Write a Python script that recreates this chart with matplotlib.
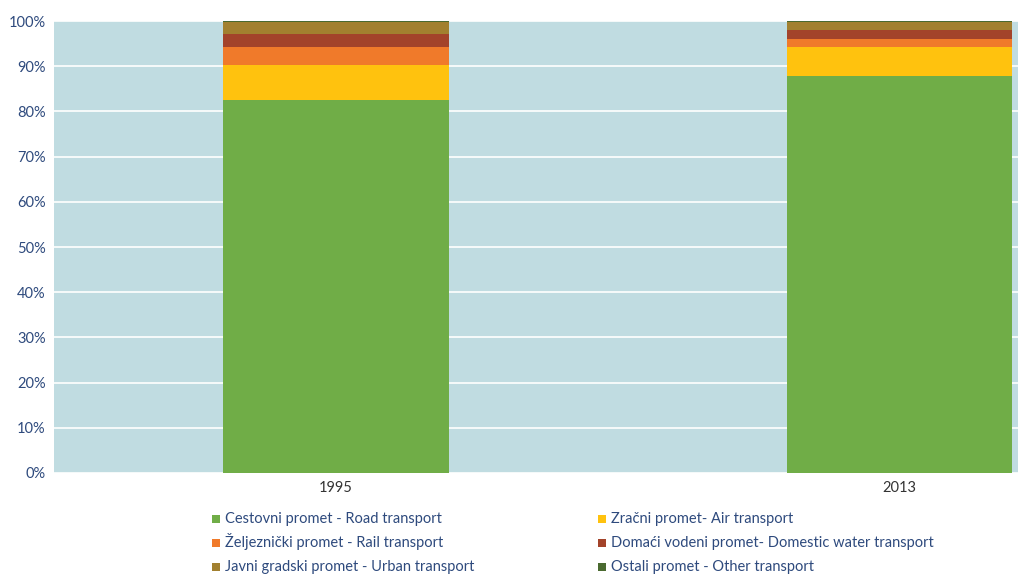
import numpy as np
import matplotlib.pyplot as plt
from matplotlib.patches import Rectangle

years = ['1995', '2013']
road = [82.5, 87.8]
air = [7.7, 6.4]
rail = [4.05, 1.8]
water = [2.8, 2.1]
urban = [2.65, 1.6]
other = [0.3, 0.3]

series = [
    ('Cestovni promet - Road transport', road, '#70AD47'),
    ('Zračni promet- Air transport', air, '#FFC20E'),
    ('Željeznički promet - Rail transport', rail, '#F07A2A'),
    ('Domaći vodeni promet- Domestic water transport', water, '#A3432A'),
    ('Javni gradski promet - Urban transport', urban, '#A2802F'),
    ('Ostali promet - Other transport', other, '#4A6A30'),
]

plt.rcParams['font.family'] = ['Lato', 'DejaVu Sans']
txt = '#2E4A7D'
W, H = 1023, 575

fig = plt.figure(figsize=(10.23, 5.75), dpi=100)
ax = fig.add_axes([54 / W, 102 / H, 964 / W, 452 / H])
ax.set_facecolor('#C0DCE1')

x = np.arange(len(years))
bottom = np.zeros(len(years))
for name, vals, col in series:
    ax.bar(x, vals, width=0.40, bottom=bottom, color=col, label=name, zorder=3)
    bottom += np.array(vals)

ax.set_ylim(0, 100)
ax.set_xlim(-0.501, 1.211)
ax.set_yticks(np.arange(0, 101, 10))
ax.set_yticklabels([f'{v}%' for v in range(0, 101, 10)], color=txt, fontsize=10.5)
ax.set_xticks(x)
ax.set_xticklabels(years, color='#333333', fontsize=10.5)
ax.tick_params(length=0, pad=6)
ax.yaxis.grid(True, color='white', linewidth=1.2, zorder=1)
ax.set_axisbelow(True)
for s in ax.spines.values():
    s.set_visible(False)

# legend laid out by hand, two columns, row by row
col_x = [212, 598]
row_y = [519, 543, 567]
for i, (name, vals, col) in enumerate(series):
    cx = col_x[i % 2]
    cy = row_y[i // 2]
    fig.patches.append(Rectangle((cx / W, (H - cy - 4) / H), 8 / W, 8 / H,
                                 transform=fig.transFigure, facecolor=col,
                                 edgecolor='none'))
    fig.text((cx + 13) / W, (H - cy - 4) / H, name, color=txt, fontsize=10.5,
             va='baseline', ha='left')

fig.savefig('out.png', dpi=100)
